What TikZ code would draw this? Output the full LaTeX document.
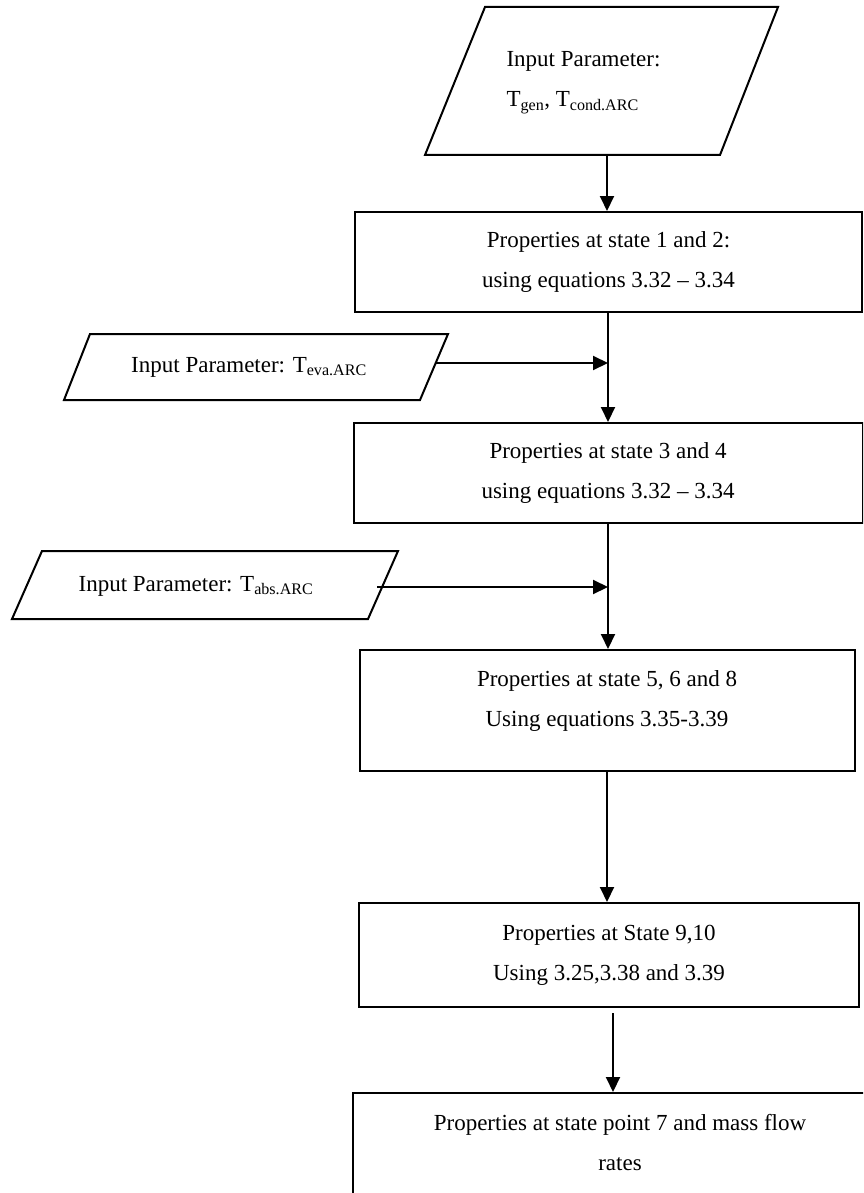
\documentclass[tikz,border=0pt]{standalone}
\usepackage{fontspec}
\setmainfont{Liberation Serif}
\usetikzlibrary{arrows.meta}

\tikzset{
  frame/.style={draw, line width=2pt},
  box/.style={frame, inner sep=0pt, align=center, font=\fontsize{23}{40}\selectfont},
  txt/.style={align=center, font=\fontsize{23}{40}\selectfont},
  flow/.style={-{Triangle[length=15pt,width=14pt]}, line width=2pt},
}

\begin{document}
\begin{tikzpicture}[x=1pt,y=-1pt]
\useasboundingbox (0,0) rectangle (863,1193);
\clip (0,0) rectangle (863,1193);

% inputs
\draw[frame] (485,7) -- (778,7) -- (720,155) -- (425,155) -- cycle;
\node[txt, align=left, anchor=west] (inGen) at (503,83) {Input Parameter:\\T\textsubscript{gen}, T\textsubscript{cond.ARC}};
\coordinate (inGenB) at (607,155);

\draw[frame] (90,334) -- (448,334) -- (420,400) -- (64,400) -- cycle;
\node[txt] (inEva) at (249,367) {Input Parameter: T\textsubscript{eva.ARC}};
\coordinate (inEvaR) at (436,363);

\draw[frame] (42,551) -- (398,551) -- (368,619) -- (12,619) -- cycle;
\node[txt] (inAbs) at (196,586) {Input Parameter: T\textsubscript{abs.ARC}};
\coordinate (inAbsR) at (377,587);

% states
\node[box, minimum width=507pt, minimum height=100pt] (s12) at (608.5,262) {Properties at state 1 and 2:\\using equations 3.32 -- 3.34};
\node[box, minimum width=509pt, minimum height=100pt] (s34) at (608,473) {Properties at state 3 and 4\\using equations 3.32 -- 3.34};
\node[box, minimum width=495pt, minimum height=121pt] (s568) at (607,710.5) {};
\node[txt] (s568t) at (607,701) {Properties at state 5, 6 and 8\\Using equations 3.35-3.39};
\node[box, minimum width=500pt, minimum height=104pt] (s910) at (609,955) {Properties at State 9,10\\Using 3.25,3.38 and 3.39};
\node[box, minimum width=534pt, minimum height=137pt] (s7) at (620,1161.5) {};
\node[txt] (s7t) at (620,1143) {Properties at state point 7 and mass flow\\rates};

% arrows
\coordinate (ax) at (608,0);
\coordinate (ax2) at (613,0);
\draw[flow] (inGenB) -- (s12.north -| inGenB);
\draw[flow] (s12.south -| ax) -- (s34.north -| ax);
\draw[flow] (inEvaR) -- (inEvaR -| ax);
\draw[flow] (s34.south -| ax) -- (s568.north -| ax);
\draw[flow] (inAbsR) -- (inAbsR -| ax);
\draw[flow] (s568.south) -- (s568.south |- s910.north);
\draw[flow] ([yshift=-5pt]s910.south -| ax2) -- (s7.north -| ax2);
\end{tikzpicture}
\end{document}
